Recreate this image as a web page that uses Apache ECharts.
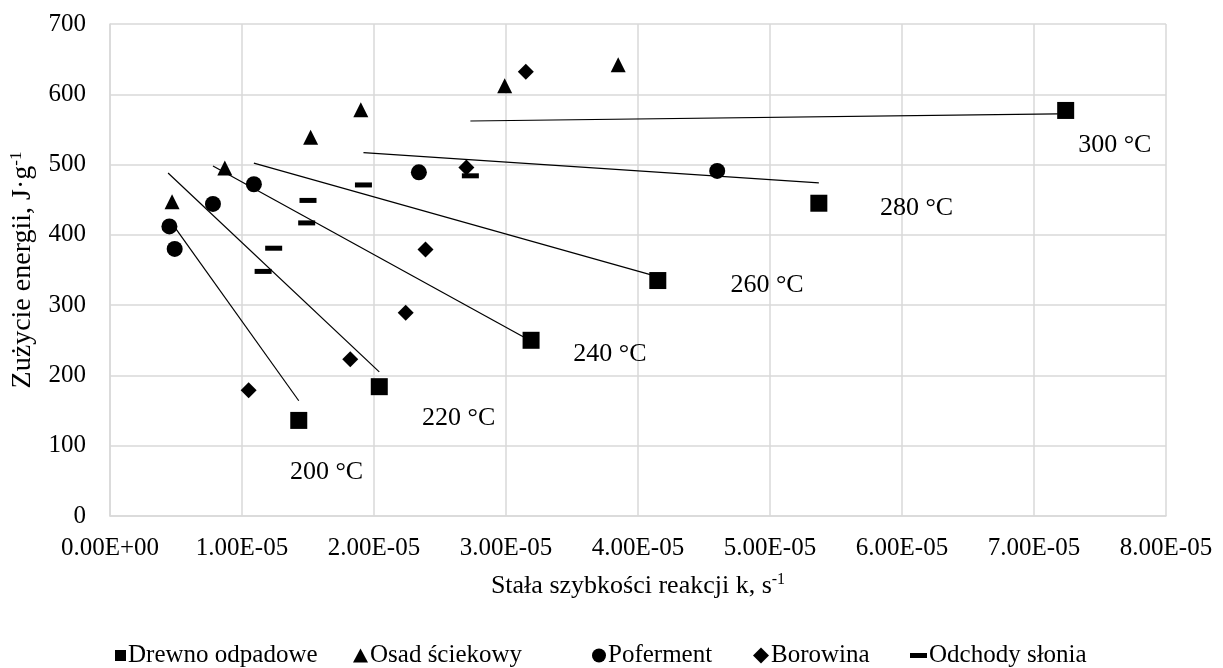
<!DOCTYPE html>
<html>
<head>
<meta charset="utf-8">
<script src="https://cdn.jsdelivr.net/npm/echarts@6/dist/echarts.min.js"></script>
<style>
  html, body { margin: 0; padding: 0; background: #fff; }
  #chart { width: 1223px; height: 668px; }
</style>
</head>
<body>
<div id="chart"></div>
<script>
// Reaction rate constant k [1/s] vs. energy consumption [J/g]
const drewnoK = [1.43e-5, 2.04e-5, 3.19e-5, 4.15e-5, 5.37e-5, 7.24e-5];
const drewnoE = [136, 184, 250, 335, 445, 577];

const osadK = [0.47e-5, 0.87e-5, 1.52e-5, 1.90e-5, 2.99e-5, 3.85e-5];
const osadE = [447, 495, 539, 578, 612, 642];

const pofermentK = [0.45e-5, 0.49e-5, 0.78e-5, 1.09e-5, 2.34e-5, 4.60e-5];
const pofermentE = [412, 380, 444, 472, 489, 491];

const borowinaK = [1.05e-5, 1.82e-5, 2.24e-5, 2.39e-5, 2.70e-5, 3.15e-5];
const borowinaE = [179, 223, 289, 379, 496, 632];

const slonK = [1.16e-5, 1.24e-5, 1.49e-5, 1.50e-5, 1.92e-5, 2.73e-5];
const slonE = [348, 381, 417, 449, 471, 484];

// Isothermal lines: [k start, E start, k end, E end]
const temperatures = ['200 °C', '220 °C', '240 °C', '260 °C', '280 °C', '300 °C'];
const isoLines = [
  [0.49e-5, 411, 1.43e-5, 164],
  [0.44e-5, 488, 2.04e-5, 205],
  [0.78e-5, 498, 3.13e-5, 255],
  [1.09e-5, 502, 4.10e-5, 343],
  [1.92e-5, 517, 5.37e-5, 474],
  [2.73e-5, 562, 7.18e-5, 572]
];
// Anchor (k, E) of each temperature caption
const tempLabelK = [1.363e-5, 2.364e-5, 3.51e-5, 4.70e-5, 5.833e-5, 7.335e-5];
const tempLabelE = [62, 139, 230, 329, 438, 527];

const xTickLabels = ['0.00E+00', '1.00E-05', '2.00E-05', '3.00E-05', '4.00E-05',
                     '5.00E-05', '6.00E-05', '7.00E-05', '8.00E-05'];
const yTickLabels = ['0', '100', '200', '300', '400', '500', '600', '700'];

const seriesNames = ['Drewno odpadowe', 'Osad ściekowy', 'Poferment', 'Borowina', 'Odchody słonia'];

const FONT = "'Liberation Serif', 'Times New Roman', serif";
const pair = (xs, ys) => xs.map((x, i) => [x, ys[i]]);
const dashPath = 'path://M0,0H17V5H0Z';

const chart = echarts.init(document.getElementById('chart'), null, { renderer: 'canvas' });

const lineSeries = isoLines.map((l, i) => ({
  name: 'iso-' + temperatures[i],
  type: 'line',
  data: [[l[0], l[1]], [l[2], l[3]]],
  symbol: 'none',
  silent: true,
  z: 1,
  lineStyle: { color: '#000', width: 1.2 }
}));

const markerSeries = [
  { name: seriesNames[0], data: pair(drewnoK, drewnoE), symbol: 'rect', symbolSize: 17 },
  { name: seriesNames[1], data: pair(osadK, osadE), symbol: 'triangle', symbolSize: [15, 15] },
  { name: seriesNames[2], data: pair(pofermentK, pofermentE), symbol: 'circle', symbolSize: 16 },
  { name: seriesNames[3], data: pair(borowinaK, borowinaE), symbol: 'diamond', symbolSize: 16 },
  { name: seriesNames[4], data: pair(slonK, slonE), symbol: 'rect', symbolSize: [17, 5] }
].map(s => Object.assign({
  type: 'scatter',
  z: 3,
  itemStyle: { color: '#000', opacity: 1 }
}, s));

const labelSeries = {
  name: 'temperature-captions',
  type: 'scatter',
  silent: true,
  symbolSize: 0,
  z: 4,
  itemStyle: { color: '#000', opacity: 1 },
  data: tempLabelK.map((k, i) => ({ value: [k, tempLabelE[i]], label: { formatter: temperatures[i] } })),
  label: {
    show: true,
    position: 'right',
    distance: 0,
    color: '#000',
    opacity: 1,
    fontFamily: FONT,
    fontSize: 26
  }
};

// One legend block per series so each key sits at its own place in the row
const legendIcons = [
  { icon: 'rect', w: 11, h: 11, left: 115 },
  { icon: 'triangle', w: 15, h: 14, left: 353 },
  { icon: 'circle', w: 14, h: 14, left: 592 },
  { icon: 'diamond', w: 16, h: 16, left: 753 },
  { icon: dashPath, w: 17, h: 5, left: 910 }
];
const legends = legendIcons.map((d, i) => ({
  data: [{ name: seriesNames[i], icon: d.icon }],
  left: d.left,
  top: 643,
  padding: 0,
  itemWidth: d.w,
  itemHeight: d.h,
  itemGap: 0,
  selectedMode: false,
  itemStyle: { color: '#000' },
  textStyle: { fontFamily: FONT, fontSize: 25, color: '#000', padding: [0, 0, 0, -3] }
}));

chart.setOption({
  backgroundColor: '#fff',
  animation: false,
  textStyle: { fontFamily: FONT, color: '#000' },
  grid: { left: 107, right: 57, top: 24, bottom: 152, containLabel: false },
  xAxis: {
    type: 'value',
    min: 0,
    max: 8e-5,
    interval: 1e-5,
    name: 'Stała szybkości reakcji k, s{sup|-1}',
    nameLocation: 'middle',
    nameGap: 56,
    nameTextStyle: {
      fontFamily: FONT, fontSize: 26, color: '#000',
      rich: { sup: { fontFamily: FONT, fontSize: 16, verticalAlign: 'top', padding: [0, 0, 12, 0], color: '#000' } }
    },
    axisLine: { show: true, lineStyle: { color: '#d9d9d9', width: 1.5 } },
    axisTick: { show: false },
    splitLine: { show: true, lineStyle: { color: '#d9d9d9', width: 1.5 } },
    axisLabel: {
      fontFamily: FONT, fontSize: 25, color: '#000', margin: 20,
      formatter: v => xTickLabels[Math.round(v / 1e-5)]
    }
  },
  yAxis: {
    type: 'value',
    min: 0,
    max: 700,
    interval: 100,
    name: 'Zużycie energii, J·g{sup|-1}',
    nameLocation: 'middle',
    nameGap: 72,
    nameRotate: 90,
    nameTextStyle: {
      fontFamily: FONT, fontSize: 28, color: '#000',
      rich: { sup: { fontFamily: FONT, fontSize: 17, verticalAlign: 'top', padding: [0, 0, 13, 0], color: '#000' } }
    },
    axisLine: { show: true, lineStyle: { color: '#d9d9d9', width: 1.5 } },
    axisTick: { show: false },
    splitLine: { show: true, lineStyle: { color: '#d9d9d9', width: 1.5 } },
    axisLabel: {
      fontFamily: FONT, fontSize: 25, color: '#000', margin: 24,
      formatter: v => yTickLabels[Math.round(v / 100)]
    }
  },
  legend: legends,
  series: [...lineSeries, ...markerSeries, labelSeries]
});
</script>
</body>
</html>
